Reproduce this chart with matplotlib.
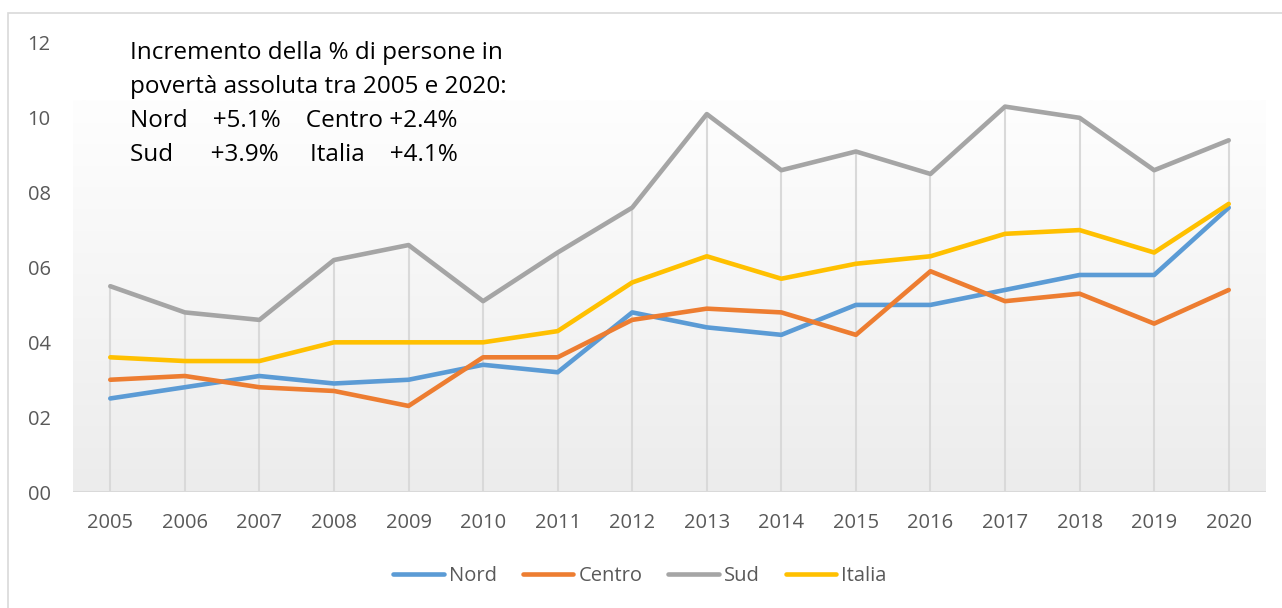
import numpy as np
import matplotlib.pyplot as plt
from matplotlib.patches import Rectangle

years = list(range(2005, 2021))
nord = [2.5, 2.8, 3.1, 2.9, 3.0, 3.4, 3.2, 4.8, 4.4, 4.2, 5.0, 5.0, 5.4, 5.8, 5.8, 7.6]
centro = [3.0, 3.1, 2.8, 2.7, 2.3, 3.6, 3.6, 4.6, 4.9, 4.8, 4.2, 5.9, 5.1, 5.3, 4.5, 5.4]
sud = [5.5, 4.8, 4.6, 6.2, 6.6, 5.1, 6.4, 7.6, 10.1, 8.6, 9.1, 8.5, 10.3, 10.0, 8.6, 9.4]
italia = [3.6, 3.5, 3.5, 4.0, 4.0, 4.0, 4.3, 5.6, 6.3, 5.7, 6.1, 6.3, 6.9, 7.0, 6.4, 7.7]
yticks = [0, 2, 4, 6, 8, 10, 12]

note = ("Incremento della % di persone in\n"
        "povertà assoluta tra 2005 e 2020:\n"
        "Nord    +5.1%    Centro +2.4%\n"
        "Sud      +3.9%     Italia    +4.1%")

plt.rcParams['font.family'] = ['Open Sans', 'DejaVu Sans']

fig = plt.figure(figsize=(12.82, 6.08), dpi=100)
fig.patches.append(Rectangle((8 / 1282, -0.1), 1.2, 1 - 13 / 608 + 0.1,
                             transform=fig.transFigure, fill=False,
                             edgecolor='#d9d9d9', lw=1.2))
ax = fig.add_axes([73 / 1282, 1 - 492 / 608, (1266 - 73) / 1282, (492 - 43) / 608])
ax.set_xlim(2004.5, 2020.5)
ax.set_ylim(0, 12)

# background gradient
grad = np.linspace(0, 1, 256).reshape(-1, 1)
cmap = plt.matplotlib.colors.LinearSegmentedColormap.from_list('g', ['#ececec', '#fefefe'])
ax.imshow(grad, extent=[2004.5, 2020.5, 0, 10.45], origin='lower', aspect='auto',
          cmap=cmap, zorder=0)

# drop lines
tops = np.max([nord, centro, sud, italia], axis=0)
ax.vlines(years, 0, tops, color='#d9d9d9', lw=1.5, zorder=1)
ax.axhline(0, color='#d9d9d9', lw=1.5, zorder=1)

series = [("Nord", nord, '#5B9BD5'), ("Centro", centro, '#ED7D31'),
          ("Sud", sud, '#A5A5A5'), ("Italia", italia, '#FFC000')]
for name, vals, c in series:
    ax.plot(years, vals, color=c, lw=3.3, label=name, solid_capstyle='round', zorder=3)

for s in ax.spines.values():
    s.set_visible(False)
ax.set_xticks(years)
ax.set_xticklabels([str(y) for y in years])
ax.set_yticks(yticks)
ax.set_yticklabels([f"{v:02d}" for v in yticks])
ax.tick_params(length=0, labelsize=14.5, colors='#595959')
ax.tick_params(axis='x', pad=15)
ax.tick_params(axis='y', pad=16)

ax.text(130, 608 - 41, note, transform=None, fontsize=17.5, va='top', ha='left',
        linespacing=1.55, color='black')

fig.legend(loc='center', bbox_to_anchor=(640 / 1282, 1 - 576 / 608), ncol=4,
           frameon=False, fontsize=14.5, handlelength=2.5, handletextpad=0.25,
           columnspacing=1.3, labelcolor='#595959')

fig.savefig('out.png', dpi=100)
